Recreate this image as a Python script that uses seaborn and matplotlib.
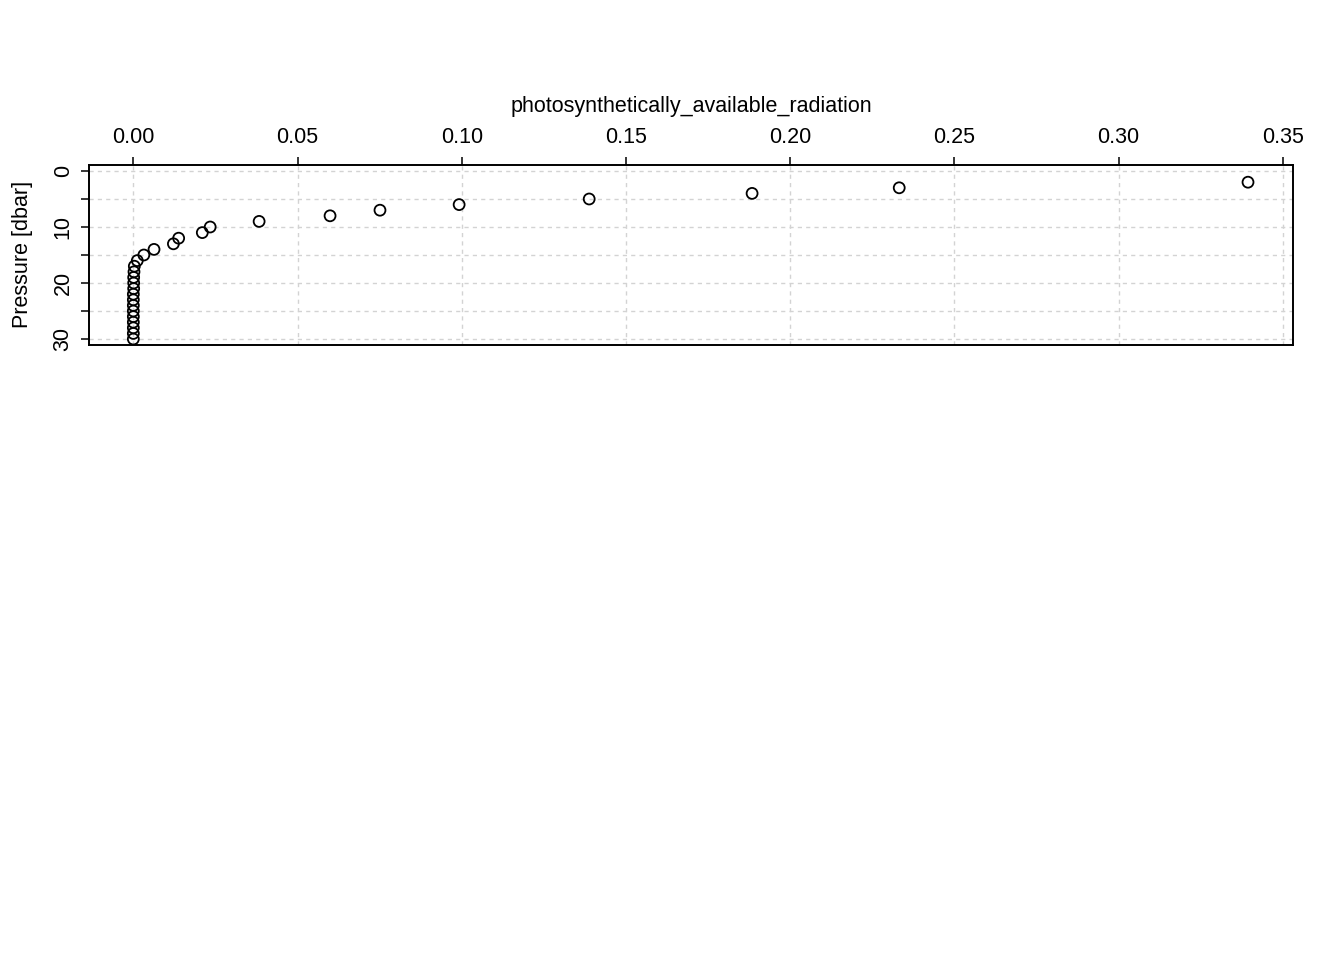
import numpy as np
import pandas as pd
import seaborn as sb
from matplotlib import pyplot as plt

# profile values
pressure = [2, 3, 4, 5, 6, 7, 8, 9, 10, 11, 12, 13, 14, 15, 16, 17, 18, 19, 20,
            21, 22, 23, 24, 25, 26, 27, 28, 29, 30]
par = [0.3394, 0.2332, 0.1884, 0.1388, 0.0992, 0.0751, 0.0599, 0.0383, 0.0234,
       0.0210, 0.0138, 0.0122, 0.0063, 0.0032, 0.0012, 0.0003, 0.0002, 0.0001,
       0.0001, 0.0001, 0.0000, 0.0000, 0.0000, 0.0000, 0.0000, 0.0000, 0.0000,
       0.0000, 0.0000]
x_ticks = [0.00, 0.05, 0.10, 0.15, 0.20, 0.25, 0.30, 0.35]
y_ticks = [0, 5, 10, 15, 20, 25, 30]
y_labels = ["0", "", "10", "", "20", "", "30"]

df = pd.DataFrame({"par": par, "pressure": pressure})

sb.set_style("white")
plt.rcParams["font.family"] = ["Liberation Sans", "DejaVu Sans"]
plt.rcParams["text.color"] = "black"
plt.rcParams["axes.labelcolor"] = "black"
plt.rcParams["xtick.color"] = "black"
plt.rcParams["ytick.color"] = "black"

fig = plt.figure(figsize=(13.44, 9.6), dpi=100)
ax = fig.add_axes([89 / 1344, 1 - 344.5 / 960, (1293 - 89) / 1344, (344.5 - 165) / 960])

sb.scatterplot(data=df, x="par", y="pressure", ax=ax, s=62, marker="o",
               fc="none", ec="black", linewidth=1.3, zorder=3)

ax.set_xlim(-0.0135, 0.3531)
ax.set_ylim(30.98, -1.07)

ax.xaxis.tick_top()
ax.xaxis.set_label_position("top")
ax.set_xticks(x_ticks)
ax.set_xticklabels(["%.2f" % v for v in x_ticks])
ax.set_yticks(y_ticks)
ax.set_yticklabels(y_labels, rotation=90, va="center")
ax.tick_params(axis="both", direction="out", length=6, width=1.1, labelsize=15.5,
               color="black", labelcolor="black", top=True, left=True,
               bottom=False, right=False)
ax.tick_params(axis="x", pad=6)
ax.tick_params(axis="y", pad=5)

ax.set_xlabel("photosynthetically_available_radiation", fontsize=15.5, labelpad=11)
ax.set_ylabel("Pressure [dbar]", fontsize=15.5, labelpad=14)

ax.grid(True, color="#d3d3d3", linestyle=(0, (3, 3)), linewidth=1.0)
for sp in ax.spines.values():
    sp.set_visible(True)
    sp.set_color("black")
    sp.set_linewidth(1.4)

plt.savefig("out.png", dpi=100)
